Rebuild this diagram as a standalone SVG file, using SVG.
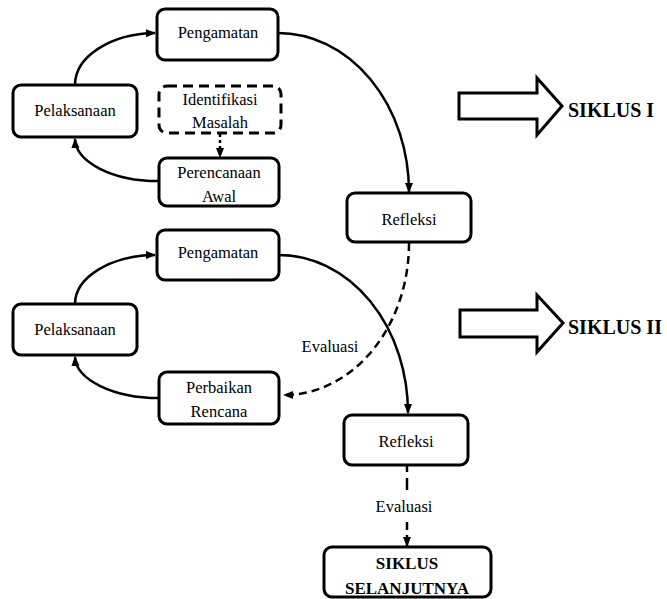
<svg xmlns="http://www.w3.org/2000/svg" width="667" height="599" viewBox="0 0 667 599" font-family="'Liberation Serif', 'Times New Roman', 'DejaVu Serif', serif">
<style>
.box{fill:#fff;stroke:#000;stroke-width:3}
.dbox{fill:#fff;stroke:#000;stroke-width:3;stroke-dasharray:10,6}
text{font-family:'Liberation Serif','Times New Roman','DejaVu Serif',serif}
.t{font-size:16.5px;fill:#000;text-anchor:middle}
.b{font-weight:bold;fill:#000}
.c{fill:none;stroke:#000;stroke-width:2.5}
.dash{stroke-dasharray:8,5}
.dot{stroke-dasharray:3,3}
.big{fill:#fff;stroke:#000;stroke-width:3}
</style>
<defs>
<marker id="ah" markerUnits="userSpaceOnUse" markerWidth="10" markerHeight="10" viewBox="0 0 10 10" refX="9" refY="5" orient="auto">
<path d="M0,1 L10,5 L0,9 Z" fill="#000"/>
</marker>
</defs>
<g id="connectors">
<path class="c" d="M75,85 A82,52 0 0 1 155,33" marker-end="url(#ah)"/>
<path class="c" d="M158,181 A83,43 0 0 1 75,139" marker-end="url(#ah)"/>
<path class="c" d="M278,33 A131,159 0 0 1 409,192" marker-end="url(#ah)"/>
<path class="c dot" d="M220,134 L220,157" marker-end="url(#ah)"/>
<path class="c dash" d="M409,243 A125,152 0 0 1 284,395" marker-end="url(#ah)"/>
<path class="c" d="M75,304 A81,49 0 0 1 155,255" marker-end="url(#ah)"/>
<path class="c" d="M159,398 A84,42 0 0 1 75,357" marker-end="url(#ah)"/>
<path class="c" d="M279,255 A129,158 0 0 1 408,413" marker-end="url(#ah)"/>
<path class="c" d="M407,466 L407,472 M407,478 L407,490"/>
<path class="c" d="M407,522 L407,530 M407,535 L407,546" marker-end="url(#ah)"/>
</g>
<g id="pengamatan1"><rect class="box" x="157" y="9" width="121" height="51" rx="8"/><text class="t" x="218" y="38">Pengamatan</text></g>
<g id="pelaksanaan1"><rect class="box" x="13" y="85" width="124" height="52" rx="8"/><text class="t" x="75" y="116">Pelaksanaan</text></g>
<g id="identifikasi"><rect class="dbox" x="159" y="86" width="122" height="47" rx="8"/><text class="t" x="220" y="105">Identifikasi</text><text class="t" x="220" y="128">Masalah</text></g>
<g id="perencanaan"><rect class="box" x="159" y="158" width="120" height="48" rx="8"/><text class="t" x="219" y="178">Perencanaan</text><text class="t" x="219" y="202">Awal</text></g>
<g id="refleksi1"><rect class="box" x="347" y="193" width="124" height="49" rx="8"/><text class="t" x="409" y="225">Refleksi</text></g>
<g id="siklus1"><polygon class="big" points="459,93 537,93 537,78 562,106 537,135 537,119 459,119"/><text class="b" x="568" y="117" font-size="20">SIKLUS I</text></g>
<g id="pengamatan2"><rect class="box" x="157" y="230" width="122" height="50" rx="8"/><text class="t" x="218" y="258">Pengamatan</text></g>
<g id="pelaksanaan2"><rect class="box" x="13" y="304" width="124" height="51" rx="8"/><text class="t" x="75" y="335">Pelaksanaan</text></g>
<g id="perbaikan"><rect class="box" x="159" y="372" width="120" height="52" rx="8"/><text class="t" x="219" y="393">Perbaikan</text><text class="t" x="219" y="417">Rencana</text></g>
<g id="evaluasi1"><text class="t" x="330" y="352">Evaluasi</text></g>
<g id="siklus2"><polygon class="big" points="460,310 537,310 537,295 563,323 537,352 537,337 460,337"/><text class="b" x="568" y="334" font-size="20">SIKLUS II</text></g>
<g id="refleksi2"><rect class="box" x="344" y="415" width="124" height="50" rx="8"/><text class="t" x="406" y="447">Refleksi</text></g>
<g id="evaluasi2"><text class="t" x="404" y="512">Evaluasi</text></g>
<g id="selanjutnya"><rect class="box" x="324" y="547" width="167" height="50" rx="8"/><text class="b" x="407" y="569" font-size="17" text-anchor="middle">SIKLUS</text><text class="b" x="407" y="594" font-size="17" text-anchor="middle">SELANJUTNYA</text></g>
</svg>
